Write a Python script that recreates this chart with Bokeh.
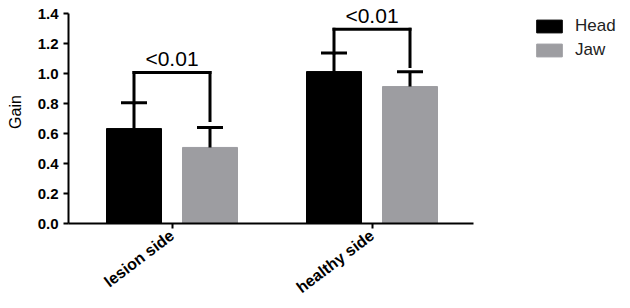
from bokeh.plotting import figure
from bokeh.models import (ColumnDataSource, Range1d, Legend, LegendItem,
                          LabelSet, NumeralTickFormatter, FixedTicker)
from bokeh.core.properties import value
from bokeh.transform import dodge
from bokeh.embed import file_html
from bokeh.resources import INLINE

# ---- data ----
categories = ["lesion side", "healthy side"]
cat_pos = [0.5, 1.5]
series = ["Head", "Jaw"]
head_mean = [0.633, 1.013]
head_err_top = [0.805, 1.137]
jaw_mean = [0.507, 0.913]
jaw_err_top = [0.640, 1.012]
bracket_y = [1.007, 1.295]
bracket_right_end = [0.686, 1.047]
p_text = ["<0.01", "<0.01"]
y_ticks = [0.0, 0.2, 0.4, 0.6, 0.8, 1.0, 1.2, 1.4]

HEAD_COLOR = "#000000"
JAW_COLOR = "#9d9da1"
FONT = "Liberation Sans"
OFF = 0.19
BW = 0.275

src = ColumnDataSource(dict(
    pos=cat_pos, head=head_mean, head_top=head_err_top,
    jaw=jaw_mean, jaw_top=jaw_err_top, by=bracket_y,
    bre=bracket_right_end, ptxt=p_text,
))

X0 = -0.0175
p = figure(width=630, height=308, output_backend="svg", toolbar_location=None,
           x_range=Range1d(X0, X0 + 562 / 200),
           y_range=Range1d(0, 223 / 150),
           min_border_left=68, min_border_right=0,
           min_border_top=0, min_border_bottom=85)
p.outline_line_color = None
p.grid.visible = False
p.background_fill_color = "white"
p.border_fill_color = "white"

xh = dodge("pos", -OFF)
xj = dodge("pos", OFF)

r_head = p.vbar(x=xh, top="head", width=BW, source=src,
                fill_color=HEAD_COLOR, line_color=HEAD_COLOR, line_width=1)
r_jaw = p.vbar(x=xj, top="jaw", width=BW, source=src,
               fill_color=JAW_COLOR, line_color=JAW_COLOR, line_width=1)

# error bars (upper only)
for xx, y0, y1 in ((xh, "head", "head_top"), (xj, "jaw", "jaw_top")):
    p.segment(x0=xx, y0=y0, x1=xx, y1=y1, source=src, line_color="black", line_width=3)
    p.dash(x=xx, y=y1, size=26, source=src, line_color="black", line_width=3)

# significance brackets
p.segment(x0=xh, y0="head_top", x1=xh, y1="by", source=src,
          line_color="black", line_width=3, line_cap="square")
p.segment(x0=xh, y0="by", x1=xj, y1="by", source=src,
          line_color="black", line_width=3, line_cap="square")
p.segment(x0=xj, y0="bre", x1=xj, y1="by", source=src,
          line_color="black", line_width=3, line_cap="square")

labels = LabelSet(x="pos", y="by", text="ptxt", source=src, y_offset=14,
                  text_align="center", text_baseline="middle",
                  text_font=value(FONT), text_font_size="21px", text_color="black")
p.add_layout(labels)

# axes
for ax in (p.xaxis[0], p.yaxis[0]):
    ax.axis_line_width = 2
    ax.axis_line_color = "black"
    ax.major_tick_line_width = 2
    ax.major_tick_line_color = "black"
    ax.major_tick_out = 5
    ax.major_tick_in = 0
    ax.minor_tick_line_color = None
    ax.major_label_text_font = FONT
    ax.major_label_text_font_style = "bold"
    ax.major_label_text_color = "black"

p.yaxis.bounds = (0, 1.4)
p.yaxis.ticker = FixedTicker(ticks=y_ticks)
p.yaxis.formatter = NumeralTickFormatter(format="0.0")
p.yaxis.major_label_text_font_size = "15px"
p.yaxis.major_label_standoff = 5
p.yaxis.axis_label = "Gain"
p.yaxis.axis_label_text_font = FONT
p.yaxis.axis_label_text_font_style = "normal"
p.yaxis.axis_label_text_font_size = "16px"
p.yaxis.axis_label_text_color = "black"
p.yaxis.axis_label_standoff = 11

p.xaxis.bounds = (X0, X0 + 405 / 200)
p.xaxis.ticker = FixedTicker(ticks=cat_pos)
p.xaxis.major_label_overrides = {cat_pos[i]: categories[i] for i in range(len(categories))}
p.xaxis.major_label_text_font_size = "16px"
p.xaxis.major_label_orientation = 0.65
p.xaxis.major_label_standoff = 5

legend = Legend(items=[LegendItem(label=series[0], renderers=[r_head]),
                       LegendItem(label=series[1], renderers=[r_jaw])],
                location=(465, 163))
legend.glyph_width = 32
legend.glyph_height = 16
legend.label_height = 20
legend.spacing = 4
legend.padding = 0
legend.margin = 0
legend.label_standoff = 10
legend.border_line_color = None
legend.background_fill_alpha = 0
legend.label_text_font = FONT
legend.label_text_font_size = "17px"
legend.label_text_color = "#222222"
p.add_layout(legend)

open("out.html", "w").write(file_html(p, INLINE))
